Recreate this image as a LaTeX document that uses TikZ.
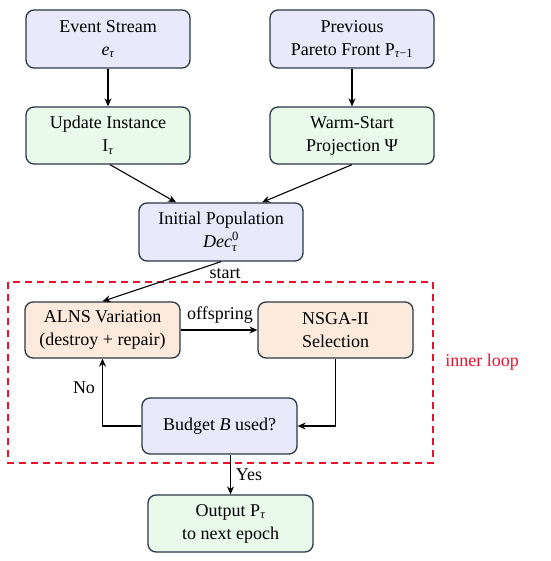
\documentclass[tikz,border=0pt]{standalone}
\usepackage{fontspec}
\usepackage{amsmath}
\setmainfont{Liberation Serif}
\newfontfamily\tnr{Liberation Serif}
\usetikzlibrary{arrows.meta,calc}
\definecolor{bluefill}{HTML}{E8E9FA}
\definecolor{greenfill}{HTML}{E9FAEA}
\definecolor{orangefill}{HTML}{FCEBDC}
\definecolor{edgecol}{HTML}{2A3848}
\definecolor{loopred}{HTML}{F0102A}
\newcommand{\ttau}{\text{\tnr\itshape τ}}
\begin{document}
\begin{tikzpicture}[x=1pt,y=-1pt,
  box/.style={draw=edgecol,line width=1.3pt,rounded corners=8pt,align=center,
    font=\tnr\fontsize{18}{23}\selectfont,inner sep=0pt},
  bigbox/.style={box,minimum width=164pt,minimum height=58pt},
  smallbox/.style={box,minimum width=155pt,minimum height=56pt},
  bluebox/.style={fill=bluefill},
  greenbox/.style={fill=greenfill},
  orangebox/.style={fill=orangefill},
  conn/.style={draw=black,line width=1.1pt,-{Stealth[length=8pt,width=7pt]}},
  lbl/.style={font=\tnr\fontsize{18}{22}\selectfont,inner sep=1pt}
]
\useasboundingbox (0,0) rectangle (550,561);
\node[bigbox,bluebox] (ev) at (108,39) {Event Stream\\$\text{\tnr\itshape e}_{\ttau}$};
\node[bigbox,bluebox] (prev) at (352,39) {Previous\\Pareto Front P$_{\ttau\text{\tnr −1}}$};
\node[bigbox,greenbox,minimum height=57pt] (upd) at (108,135.5) {Update Instance\\I$_{\ttau}$};
\node[bigbox,greenbox,minimum height=57pt] (warm) at (352,135.5) {Warm-Start\\Projection Ψ};
\node[bigbox,bluebox] (init) at (221,232) {Initial Population\\$\text{\tnr\itshape Dec}^{\text{\tnr 0}}_{\ttau}$};
\node[smallbox,orangebox] (alns) at (102.5,330) {ALNS Variation\\(destroy + repair)};
\node[smallbox,orangebox] (nsga) at (335.5,330) {NSGA-II\\Selection};
\node[smallbox,bluebox] (budget) at (219.5,426) {Budget \textit{B} used?};
\node[box,greenbox,minimum width=165pt,minimum height=57pt] (out) at (230.5,523.5) {Output P$_{\ttau}$\\to next epoch};
\draw[loopred,line width=1.4pt,dash pattern=on 7pt off 5pt] (8,282) rectangle (433,463);
\node[lbl,text=loopred] (inner) at (482,362) {inner loop};
\draw[conn] (ev.south) -- (upd.north);
\draw[conn] (prev.south) -- (warm.north);
\draw[conn] ($(upd.south)+(2,0)$) -- ($(init.north)+(-45,0)$);
\draw[conn] (warm.south) -- ($(init.north)+(41,0)$);
\draw[conn] (init.south) -- (alns.north);
\node[lbl] (startlbl) at (225,274) {start};
\draw[conn] (alns.east) -- (nsga.west);
\node[lbl] (offlbl) at (220,315) {offspring};
\draw[conn] (nsga.south) |- (budget.east);
\draw[conn] (budget.west) -| (alns.south);
\node[lbl] (nolbl) at (84,388) {No};
\draw[conn] (out.north |- budget.south) -- (out.north);
\node[lbl] (yeslbl) at (249,475) {Yes};
\end{tikzpicture}
\end{document}
